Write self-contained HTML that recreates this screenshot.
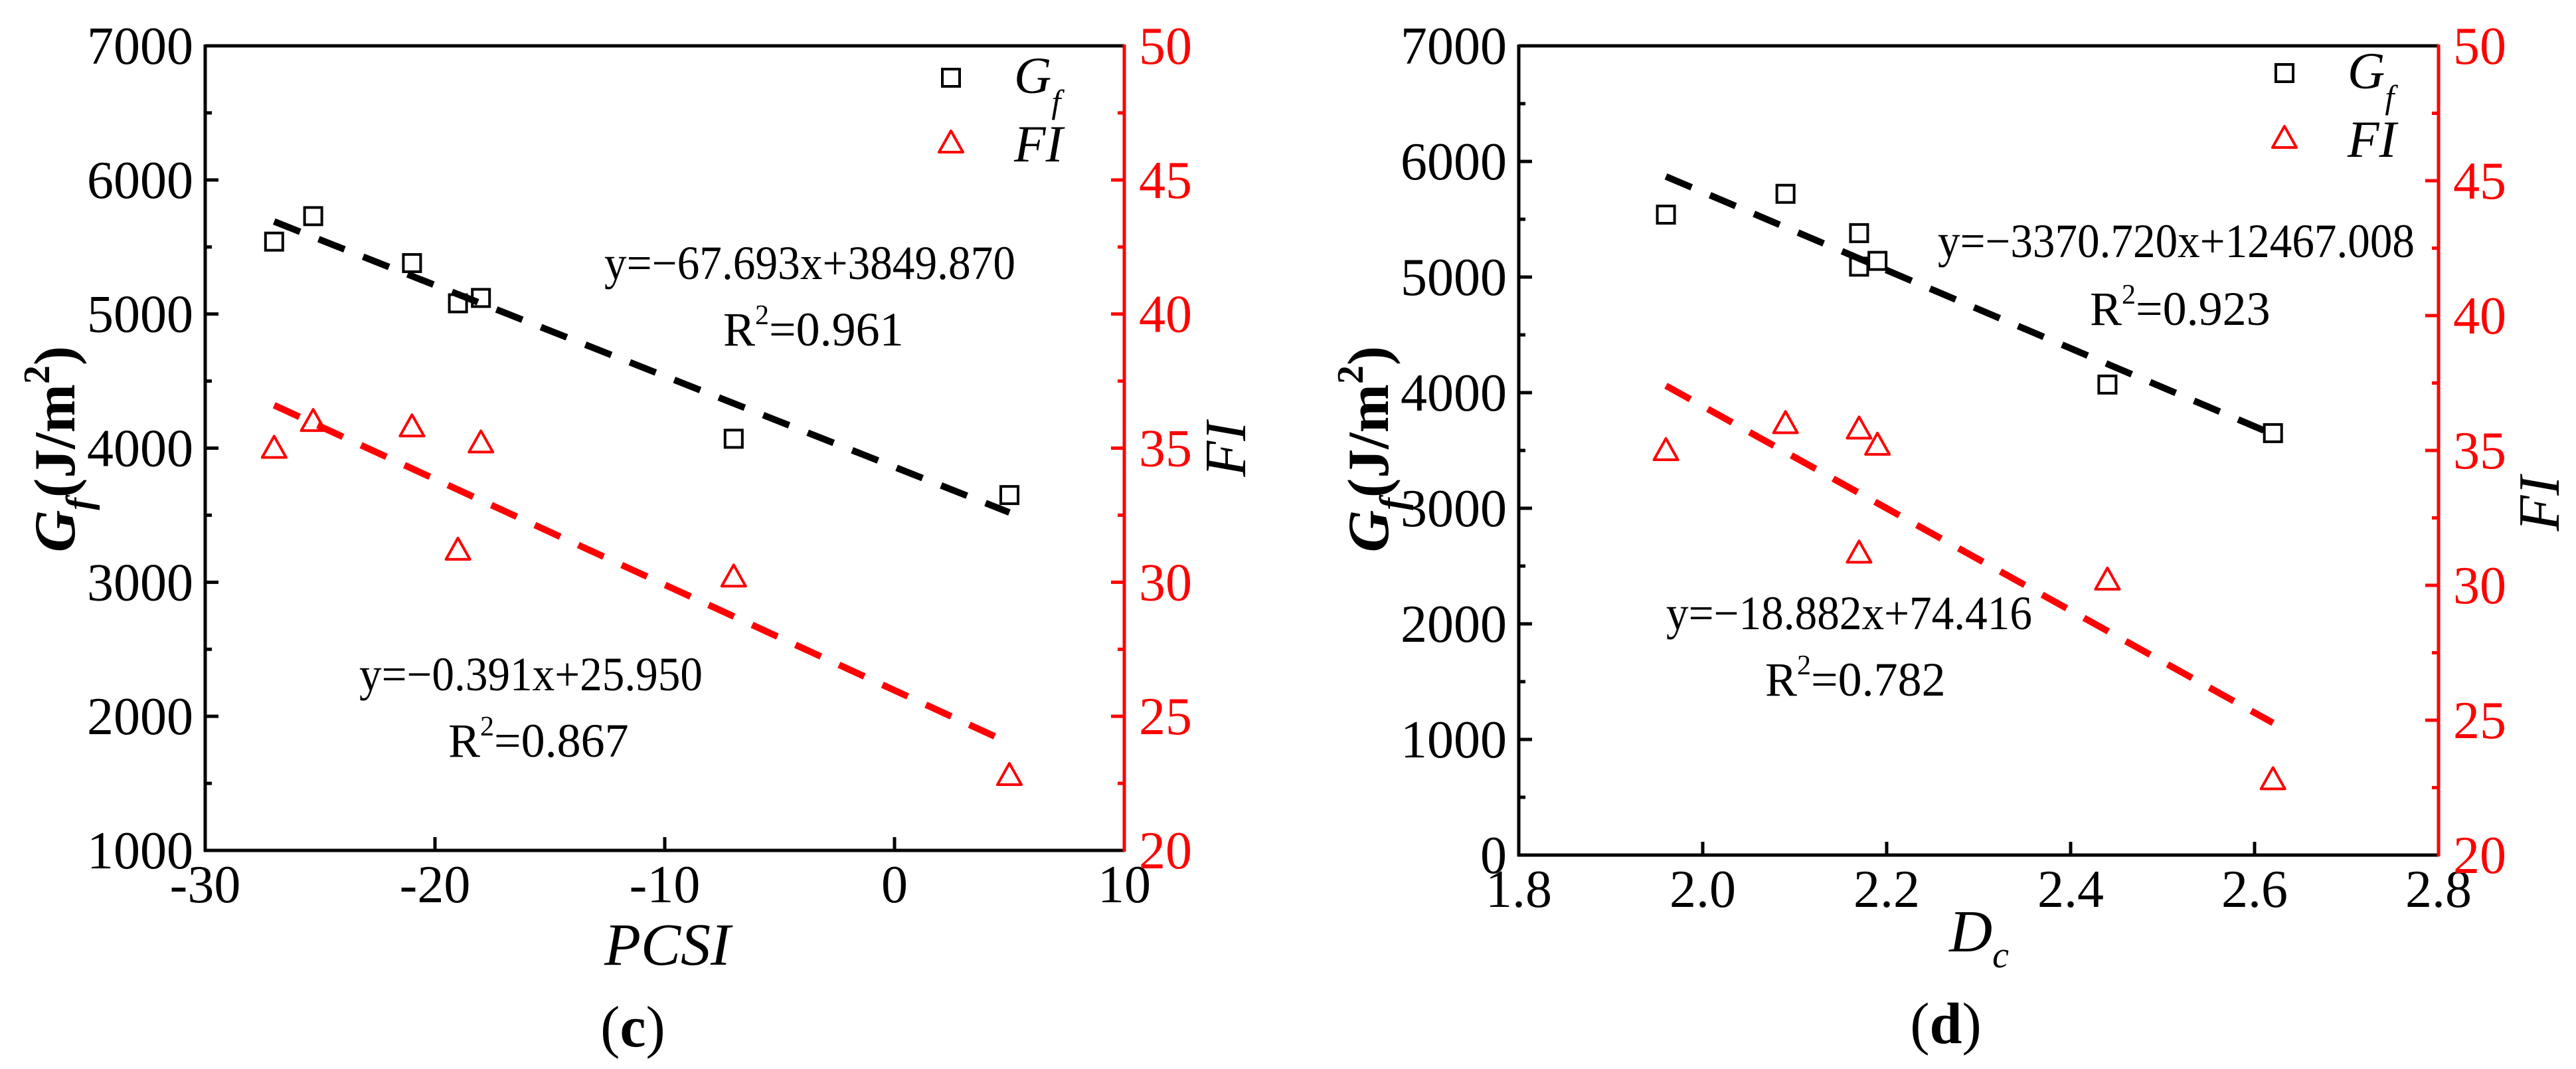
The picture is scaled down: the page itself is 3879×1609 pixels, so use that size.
<!DOCTYPE html>
<html><head><meta charset="utf-8"><style>
html,body{margin:0;padding:0;background:#fff;}
svg, svg text{font-family:"Liberation Serif","Times New Roman","DejaVu Serif",serif;}
</style></head><body>
<svg id="fig" width="3879" height="1604" viewBox="0 0 3879 1604" xmlns="http://www.w3.org/2000/svg" font-family="Liberation Serif, serif"></svg>
<script>
// ---- Panel (c) data ----
const cX = [-27, -25.3, -21, -19, -18, -7, 5];
const cGf = [5540, 5730, 5380, 5080, 5120, 4070, 3650];
const cFI = [35.0, 36.0, 35.8, 31.2, 35.2, 30.2, 22.8];
const cFitGfX = [-27, 5];
const cFitGfY = [5690, 3520];
const cFitFIX = [-27, 5];
const cFitFIY = [36.6, 24.0];
const cXTicks = [-30, -20, -10, 0, 10];
const cYTicks = [1000, 2000, 3000, 4000, 5000, 6000, 7000];
// ---- Panel (d) data ----
const dX = [1.96, 2.09, 2.17, 2.17, 2.19, 2.44, 2.62];
const dGf = [5540, 5720, 5380, 5090, 5140, 4070, 3650];
const dFI = [35.0, 36.0, 35.8, 31.2, 35.2, 30.2, 22.8];
const dFitGfX = [1.96, 2.62];
const dFitGfY = [5870, 3640];
const dFitFIX = [1.96, 2.62];
const dFitFIY = [37.4, 24.9];
const dXTicks = [1.8, 2.0, 2.2, 2.4, 2.6, 2.8];
const dYTicks = [0, 1000, 2000, 3000, 4000, 5000, 6000, 7000];
const rTicks = [20, 25, 30, 35, 40, 45, 50];

const NS = "http://www.w3.org/2000/svg";
const svg = document.getElementById('fig');
const FONT = '"Liberation Serif", "Times New Roman", serif';
const TF = 80;
function mk(tag, attrs, parent) {
  const e = document.createElementNS(NS, tag);
  for (const k in attrs) e.setAttribute(k, attrs[k]);
  if (tag === 'text') e.setAttribute('font-family', FONT);
  (parent || svg).appendChild(e);
  return e;
}

function panel(p) {
  const g = mk('g', {});
  
  
  const L = p.L, R = p.R, T = p.T, B = p.B;
  const sx = v => L + (v - p.xmin) / (p.xmax - p.xmin) * (R - L);
  const sy = v => B - (v - p.ymin) / (p.ymax - p.ymin) * (B - T);
  const sr = v => B - (v - 20) / 30 * (B - T);

  const top = mk('line', {x1: L, y1: T, x2: R, y2: T, stroke: '#000', 'stroke-width': 5}, g);
  
  
  const bot = mk('line', {x1: L - 2, y1: B, x2: R, y2: B, stroke: '#000', 'stroke-width': 5}, g);
  
  
  const lf = mk('line', {x1: L, y1: T - 2, x2: L, y2: B + 2, stroke: '#000', 'stroke-width': 5}, g);
  
  
  const rt = mk('line', {x1: R, y1: T - 2, x2: R, y2: B + 2, stroke: '#f00', 'stroke-width': 5}, g);
  
  

  p.xTicks.forEach((v, i) => {
    const x = sx(v);
    if (i > 0 && i < p.xTicks.length - 1) mk('line', {x1: x, y1: B, x2: x, y2: B - 20, stroke: '#000', 'stroke-width': 5}, g);
    const t = mk('text', {x: x, y: B + 78, 'font-size': TF, 'text-anchor': 'middle', fill: '#000'}, g);
    t.textContent = p.xFmt(v);
    
    
  });
  p.yTicks.forEach((v, i) => {
    const y = sy(v);
    if (i > 0 && i < p.yTicks.length - 1) mk('line', {x1: L, y1: y, x2: L + 20, y2: y, stroke: '#000', 'stroke-width': 5}, g);
    if (i < p.yTicks.length - 1) {
      const ym = sy(v + (p.yTicks[1] - p.yTicks[0]) / 2);
      mk('line', {x1: L, y1: ym, x2: L + 10, y2: ym, stroke: '#000', 'stroke-width': 5}, g);
    }
    const t = mk('text', {x: L - 18, y: y + 27, 'font-size': TF, 'text-anchor': 'end', fill: '#000'}, g);
    t.textContent = v;
    
    
  });
  rTicks.forEach((v, i) => {
    const y = sr(v);
    if (i > 0 && i < rTicks.length - 1) mk('line', {x1: R, y1: y, x2: R - 20, y2: y, stroke: '#f00', 'stroke-width': 5}, g);
    if (i < rTicks.length - 1) {
      const ym = sr(v + 2.5);
      mk('line', {x1: R, y1: ym, x2: R - 10, y2: ym, stroke: '#f00', 'stroke-width': 5}, g);
    }
    const t = mk('text', {x: R + 22, y: y + 27, 'font-size': TF, 'text-anchor': 'start', fill: '#f00'}, g);
    t.textContent = v;
    
    
  });

  const f1 = mk('line', {x1: sx(p.fitGfX[0]), y1: sy(p.fitGfY[0]), x2: sx(p.fitGfX[1]), y2: sy(p.fitGfY[1]), stroke: '#000', 'stroke-width': 10, 'stroke-dasharray': '42 30'}, g);
  
  
  const f2 = mk('line', {x1: sx(p.fitFIX[0]), y1: sr(p.fitFIY[0]), x2: sx(p.fitFIX[1]), y2: sr(p.fitFIY[1]), stroke: '#f00', 'stroke-width': 10, 'stroke-dasharray': '42 30'}, g);
  
  

  p.x.forEach((v, i) => {
    const x = sx(v), y = sy(p.gf[i]);
    const s = mk('rect', {x: x - 13, y: y - 13, width: 26, height: 26, fill: 'none', stroke: '#000', 'stroke-width': 4}, g);
    
    
    const yr = sr(p.fi[i]);
    const tr = mk('polygon', {points: `${x},${yr - 18} ${x + 18},${yr + 14} ${x - 18},${yr + 14}`, fill: 'none', stroke: '#f00', 'stroke-width': 4, 'stroke-linejoin': 'round'}, g);
    
    
  });

  const lg = mk('g', {}, g);
  
  
  mk('rect', {x: p.legX - 13, y: p.legY - 13, width: 26, height: 26, fill: 'none', stroke: '#000', 'stroke-width': 4}, lg);
  const lt1 = mk('text', {x: p.legX + 95, y: p.legY + 23, 'font-size': 78, 'font-style': 'italic'}, lg);
  lt1.innerHTML = 'G<tspan font-size="50" dy="30">f</tspan>';
  
  
  const ty = p.legY + 98;
  mk('polygon', {points: `${p.legX},${ty - 18} ${p.legX + 18},${ty + 14} ${p.legX - 18},${ty + 14}`, fill: 'none', stroke: '#f00', 'stroke-width': 4, 'stroke-linejoin': 'round'}, lg);
  const lt2 = mk('text', {x: p.legX + 95, y: ty + 28, 'font-size': 78, 'font-style': 'italic'}, lg);
  lt2.textContent = 'FI';
  
  

  p.eqs.forEach(e => {
    const t = mk('text', {x: e.x, y: e.y, 'font-size': 72}, g);
    if (e.w) { t.setAttribute('textLength', e.w); t.setAttribute('lengthAdjust', 'spacingAndGlyphs'); }
    if (e.r2) t.innerHTML = 'R<tspan font-size="42" dy="-32">2</tspan><tspan dy="32">=' + e.r2 + '</tspan>';
    else t.textContent = e.txt;
    
    
  });

  const yl = mk('text', {x: 0, y: 0, 'font-size': 88, 'font-weight': 'bold', 'text-anchor': 'middle', transform: `translate(${p.ylX},${p.ylY}) rotate(-90)`}, g);
  yl.innerHTML = '<tspan font-style="italic">G</tspan><tspan font-size="56" font-style="italic" dy="26">f</tspan><tspan dy="-26">(J/m</tspan><tspan font-size="56" dy="-38">2</tspan><tspan dy="38">)</tspan>';
  
  
  const yr2 = mk('text', {x: 0, y: 0, 'font-size': 88, 'font-style': 'italic', 'text-anchor': 'middle', transform: `translate(${p.yrX},${p.yrY}) rotate(-90)`}, g);
  yr2.textContent = 'FI';
  
  
  const xt = mk('text', {x: p.xtX, y: p.xtY, 'font-size': 90, 'font-style': 'italic', 'text-anchor': 'middle'}, g);
  xt.innerHTML = p.xTitle;
  
  
  const cap = mk('text', {x: p.capX, y: p.capY, 'font-size': 88, 'text-anchor': 'middle'}, g);
  cap.innerHTML = '(<tspan font-weight="bold">' + p.cap + '</tspan>)';
  
  
}

panel({name: 'panel-c', L: 309, R: 1693, T: 69, B: 1280, xmin: -30, xmax: 10, ymin: 1000, ymax: 7000,
  xTicks: cXTicks, yTicks: cYTicks, xFmt: v => String(v), x: cX, gf: cGf, fi: cFI,
  fitGfX: cFitGfX, fitGfY: cFitGfY, fitFIX: cFitFIX, fitFIY: cFitFIY,
  legX: 1432, legY: 117,
  eqs: [
    {txt: 'y=\u221267.693x+3849.870', x: 910, y: 420, w: 619, name: 'gf-fit-equation'},
    {r2: '0.961', x: 1089, y: 520, name: 'gf-fit-r2'},
    {txt: 'y=\u22120.391x+25.950', x: 541, y: 1039, w: 517, name: 'fi-fit-equation'},
    {r2: '0.867', x: 675, y: 1139, name: 'fi-fit-r2'}
  ],
  ylX: 112, ylY: 676, yrX: 1875, yrY: 676, xtX: 1005, xtY: 1452, xTitle: 'PCSI', capX: 953, capY: 1575, cap: 'c'});

panel({name: 'panel-d', L: 2287, R: 3672, T: 69, B: 1287, xmin: 1.8, xmax: 2.8, ymin: 0, ymax: 7000,
  xTicks: dXTicks, yTicks: dYTicks, xFmt: v => v.toFixed(1), x: dX, gf: dGf, fi: dFI,
  fitGfX: dFitGfX, fitGfY: dFitGfY, fitFIX: dFitFIX, fitFIY: dFitFIY,
  legX: 3440, legY: 110,
  eqs: [
    {txt: 'y=\u22123370.720x+12467.008', x: 2918, y: 387, w: 718, name: 'gf-fit-equation'},
    {r2: '0.923', x: 3147, y: 489, name: 'gf-fit-r2'},
    {txt: 'y=\u221218.882x+74.416', x: 2509, y: 947, w: 551, name: 'fi-fit-equation'},
    {r2: '0.782', x: 2658, y: 1047, name: 'fi-fit-r2'}
  ],
  ylX: 2090, ylY: 676, yrX: 3853, yrY: 758, xtX: 2980, xtY: 1432,
  xTitle: 'D<tspan font-size="56" dy="24">c</tspan>', capX: 2930, capY: 1570, cap: 'd'});
</script>
</body></html>
